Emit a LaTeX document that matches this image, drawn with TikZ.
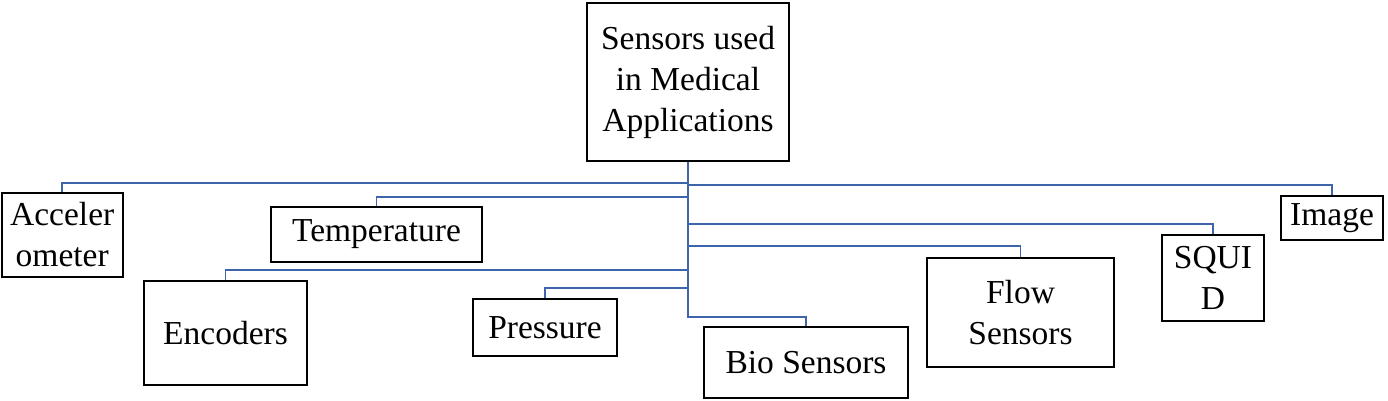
\documentclass[tikz,border=0pt]{standalone}
\usepackage{fontspec}
\setmainfont{Liberation Serif}
\definecolor{linkblue}{RGB}{62,100,172}
\tikzset{
  box/.style={draw=black, line width=2pt, inner sep=0pt, align=center,
    font=\fontsize{33.5}{41}\selectfont},
  link/.style={draw=linkblue, line width=1.8pt}
}
\newcommand{\boxnode}[6]{% name, x1, x2, y1, y2, text
  \node[box, minimum width={#3-#2}, minimum height={#5-#4}] (#1) at ({(#2+#3)/2},{(#4+#5)/2}) {#6};}
\begin{document}
\begin{tikzpicture}[x=1pt,y=-1pt]
\useasboundingbox (0,0) rectangle (1388,400);
\boxnode{top}{587}{789}{3}{161}{Sensors used\\in Medical\\Applications}
\boxnode{acc}{1.5}{123}{193}{277}{Acceler\\ometer}
\boxnode{temp}{271}{482}{207}{262}{\raisebox{-3pt}{Temperature}}
\boxnode{enc}{144}{307}{281}{385}{Encoders}
\boxnode{pres}{473}{617}{299}{356}{Pressure}
\boxnode{bio}{704}{908}{327}{398}{Bio Sensors}
\boxnode{flow}{927}{1114}{258}{367}{Flow\\Sensors}
\boxnode{squid}{1162}{1264}{235}{321}{SQUI\\D}
\boxnode{img}{1281}{1383}{196}{240}{Image}
\coordinate (jacc) at (688,183);
\coordinate (jimg) at (688,185);
\coordinate (jtemp) at (688,197);
\coordinate (jsquid) at (688,224);
\coordinate (jflow) at (688,246);
\coordinate (jenc) at (688,270);
\coordinate (jpres) at (688,288);
\coordinate (jbio) at (688,317);
\draw[link] (top.south) -- (jbio) -| (bio.north);
\draw[link] (jacc) -| (acc.north);
\draw[link] (jimg) -| (img.north);
\draw[link] (jtemp) -| (temp.north);
\draw[link] (jsquid) -| (squid.north);
\draw[link] (jflow) -| (flow.north);
\draw[link] (jenc) -| (enc.north);
\draw[link] (jpres) -| (pres.north);
\end{tikzpicture}
\end{document}
